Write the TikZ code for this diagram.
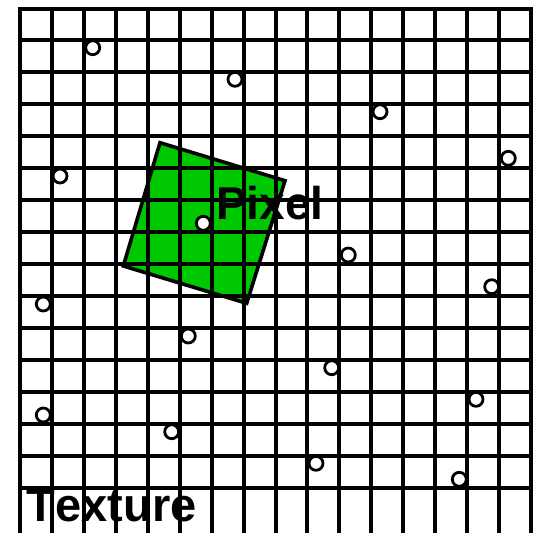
\documentclass[tikz,border=0pt]{standalone}
\usepackage{fontspec}
\setmainfont{Liberation Sans}
\definecolor{pixgreen}{RGB}{0,200,0}
\tikzset{
  gridline/.style={line width=4pt, black},
  sample/.style={circle, draw=black, fill=white, line width=2.8pt, minimum size=14pt, inner sep=0pt},
  biglabel/.style={font=\fontsize{46}{46}\selectfont\bfseries, inner sep=0pt, anchor=base west},
}
\begin{document}
\begin{tikzpicture}[x=1pt,y=-1pt]
\useasboundingbox (0,0) rectangle (535,533);
% pixel footprint
\draw[line width=3.6pt, fill=pixgreen, line join=miter]
  (160,142.7) -- (285,180.7) -- (246.7,303.3) -- (123.3,266) -- cycle;
% texture grid
\foreach \k in {0,...,16} {
  \draw[gridline] ({20+31.94*\k},6.5) -- ({20+31.94*\k},533);
}
\foreach \k in {0,...,15} {
  \draw[gridline] (18,{8.5+31.94*\k}) -- (533,{8.5+31.94*\k});
}
% sample points
\foreach \p [count=\i] in {(92.7,47.7),(235,79.3),(380,111.7),(508.3,158.3),
  (60,176),(203.3,223.3),(348.3,255),(491.7,286.7),
  (43.3,304),(188.3,336),(331.7,367.7),(476,399.3),
  (43.3,415),(171.7,431.7),(316,463.3),(459.3,479.3)} {
  \node[sample] (s\i) at \p {};
}
% labels
\node[biglabel] (pixel) at (216,219.5) {Pixel};
\node[biglabel, font=\fontsize{47}{47}\selectfont\bfseries\addfontfeature{Kerning=Off}] (texture) at (26.5,521.7) {Texture};
\end{tikzpicture}
\end{document}
